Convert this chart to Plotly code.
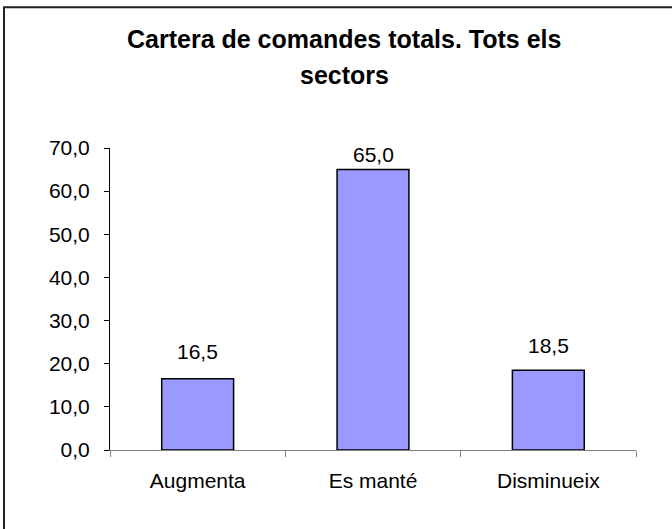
import plotly.graph_objects as go

categories = ["Augmenta", "Es manté", "Disminueix"]
values = [16.5, 65.0, 18.5]
title_lines = ["Cartera de comandes totals. Tots els", "sectors"]
y_ticks = [0, 10, 20, 30, 40, 50, 60, 70]

label_offsets = [27, 15, 25]  # px above bar top (style)

FONT = "Liberation Sans, Arial, sans-serif"

fig = go.Figure()
fig.add_trace(go.Bar(
    x=categories, y=values,
    marker=dict(color="#9999FF", line=dict(color="#000000", width=1.5)),
    hoverinfo="skip",
))

annotations = []
for c, v, off in zip(categories, values, label_offsets):
    annotations.append(dict(
        x=c, y=v, xref="x", yref="y", text=f"{v:.1f}".replace(".", ","),
        showarrow=False, yanchor="middle", yshift=off,
        font=dict(family=FONT, size=21, color="#000000"),
    ))
title_y = [1.3623, 1.2430]
for t, ty in zip(title_lines, title_y):
    annotations.append(dict(
        x=0.445, y=ty, xref="paper", yref="paper", text=f"<b>{t}</b>",
        showarrow=False, xanchor="center", yanchor="middle",
        font=dict(family=FONT, size=25, color="#000000"),
    ))

fig.update_layout(
    width=672, height=529,
    margin=dict(l=110, r=36, t=148, b=79, autoexpand=False),
    paper_bgcolor="#FFFFFF", plot_bgcolor="#FFFFFF",
    bargap=0.59,
    showlegend=False,
    separators=",.",
    annotations=annotations,
    shapes=[dict(type="rect", xref="paper", yref="paper",
                 x0=-0.2015, x1=1.09, y0=-0.29, y1=1.4659,
                 line=dict(color="#222222", width=2), layer="below")],
    font=dict(family=FONT, size=21, color="#000000"),
)
fig.update_xaxes(
    showgrid=False, showline=True, linecolor="#808080", linewidth=1,
    ticks="outside", tickson="boundaries", ticklen=6, tickcolor="#808080",
    ticklabelstandoff=12,
    tickfont=dict(family=FONT, size=21, color="#000000"),
)
fig.update_yaxes(
    range=[0, 70], tickvals=y_ticks, tickformat=".1f",
    showgrid=False, showline=True, linecolor="#000000", linewidth=1,
    ticks="outside", ticklen=5, tickcolor="#000000",
    ticklabelstandoff=10, zeroline=False,
    tickfont=dict(family=FONT, size=21, color="#000000"),
)

fig.write_html("out.html",
               config={"displayModeBar": False, "staticPlot": True},
               post_script="document.body.style.margin='0';document.body.style.overflow='hidden';")
